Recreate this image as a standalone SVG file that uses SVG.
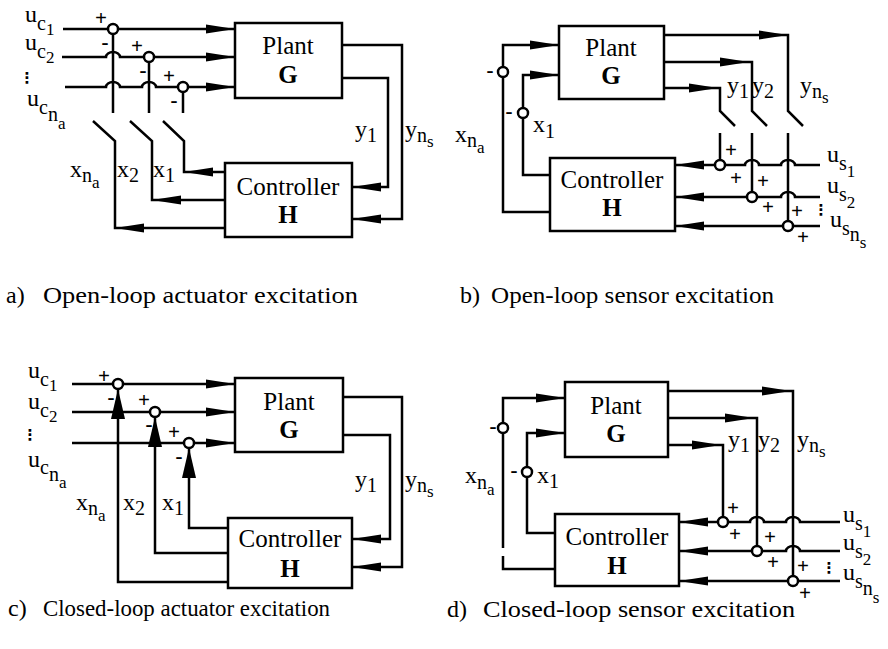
<svg xmlns="http://www.w3.org/2000/svg" xmlns:xlink="http://www.w3.org/1999/xlink" width="888" height="649" viewBox="0 0 888 649">
<style>
.ln{fill:none;stroke:#000;stroke-width:2.5;stroke-linejoin:miter}
.bx{fill:#fff;stroke:#000;stroke-width:2.5}
.sj{fill:#fff;stroke:#000;stroke-width:2.5}
text{font-family:"Liberation Serif","Times New Roman",serif;fill:#000}
.t{font-size:24px}
.s1{font-size:20px}
.s2{font-size:17px}
.bl{font-size:25px;text-anchor:middle}
.bb{font-size:25px;text-anchor:middle;font-weight:bold}
.sg{font-size:21px;font-weight:bold;text-anchor:middle}
.cap{font-size:24px}
.dt{font-family:"DejaVu Sans",sans-serif;font-size:15px;font-weight:bold;text-anchor:middle}
</style>
<defs>
<path id="ah" d="M0,0 L-29,-4.5 L-29,4.5 Z" fill="#000"/>
<path id="av" d="M0,0 L-30,-7 L-30,7 Z" fill="#000"/>
</defs>
<rect width="888" height="649" fill="#fff"/>

<!-- ================= Panel a ================= -->
<g id="a-connectors">
<path class="ln" d="M63,29 H235"/>
<path class="ln" d="M62,57 H106 A7,5 0 0 1 120,57 H235"/>
<path class="ln" d="M65,87 H106 A7,5 0 0 1 120,87 H142 A7,5 0 0 1 156,87 H235"/>
<path class="ln" d="M113,29 V113 M149,57 V113 M183,87 V113"/>
<path class="ln" d="M93,121 L115,141 V228 H225"/>
<path class="ln" d="M130,121 L152,141 V200 H225"/>
<path class="ln" d="M163,121 L184,141 V172 H225"/>
<path class="ln" d="M342,45 H402 V219 H352"/>
<path class="ln" d="M342,78 H388 V187 H352"/>
<use xlink:href="#ah" transform="translate(235,29)"/>
<use xlink:href="#ah" transform="translate(235,57)"/>
<use xlink:href="#ah" transform="translate(235,87)"/>
<use xlink:href="#ah" transform="translate(115,228) rotate(180)"/>
<use xlink:href="#ah" transform="translate(152,200) rotate(180)"/>
<use xlink:href="#ah" transform="translate(184,172) rotate(180)"/>
<use xlink:href="#ah" transform="translate(352,219) rotate(180)"/>
<use xlink:href="#ah" transform="translate(352,187) rotate(180)"/>
</g>
<g id="a-plant"><rect class="bx" x="235" y="23" width="107" height="75"/><text class="bl" x="288" y="54">Plant</text><text class="bb" x="288" y="83">G</text></g>
<g id="a-controller"><rect class="bx" x="225" y="163" width="127" height="74"/><text class="bl" x="288" y="195">Controller</text><text class="bb" x="288" y="223">H</text></g>
<g id="a-sum1"><circle class="sj" cx="113" cy="29" r="5"/><text class="sg" x="101" y="25">+</text><text class="sg" x="105" y="49">-</text></g>
<g id="a-sum2"><circle class="sj" cx="149" cy="57" r="5"/><text class="sg" x="137" y="53">+</text><text class="sg" x="143" y="77">-</text></g>
<g id="a-sum3"><circle class="sj" cx="183" cy="87" r="5"/><text class="sg" x="169" y="83">+</text><text class="sg" x="174" y="107">-</text></g>
<g id="a-labels">
<text class="t" x="25" y="22">u<tspan class="s1" dy="8">c</tspan><tspan class="s2" dy="5">1</tspan></text>
<text class="t" x="25" y="50">u<tspan class="s1" dy="8">c</tspan><tspan class="s2" dy="5">2</tspan></text>
<text class="dt" x="27" y="83">⋮</text>
<text class="t" x="27" y="106">u<tspan class="s1" dy="8">c</tspan><tspan class="s1" dy="7">n</tspan><tspan class="s2" dy="8">a</tspan></text>
<text class="t" x="70" y="177">x<tspan class="s1" dy="5">n</tspan><tspan class="s2" dy="6">a</tspan></text>
<text class="t" x="117" y="177">x<tspan class="s1" dy="5">2</tspan></text>
<text class="t" x="153" y="177">x<tspan class="s1" dy="5">1</tspan></text>
<text class="t" x="355" y="137">y<tspan class="s1" dy="5">1</tspan></text>
<text class="t" x="405" y="137">y<tspan class="s1" dy="5">n</tspan><tspan class="s2" dy="5">s</tspan></text>
</g>
<text class="cap" x="6" y="303">a)</text>
<text class="cap" x="43" y="303" textLength="315" lengthAdjust="spacingAndGlyphs">Open-loop actuator excitation</text>

<!-- ================= Panel b ================= -->
<g id="b-connectors">
<path class="ln" d="M550,212 H503 V45 H559"/>
<path class="ln" d="M550,175 H523 V75 H559"/>
<path class="ln" d="M664,35 H788 V111 L803,126"/>
<path class="ln" d="M664,62 H752 V111 L767,126"/>
<path class="ln" d="M664,88 H720 V111 L735,126"/>
<path class="ln" d="M720,133 V165 M752,133 V197 M788,133 V226"/>
<path class="ln" d="M820,165 H795 A7,5 0 0 0 781,165 H759 A7,5 0 0 0 745,165 H675"/>
<path class="ln" d="M820,197 H795 A7,5 0 0 0 781,197 H675"/>
<path class="ln" d="M820,226 H675"/>
<use xlink:href="#ah" transform="translate(559,45)"/>
<use xlink:href="#ah" transform="translate(559,75)"/>
<use xlink:href="#ah" transform="translate(788,35)"/>
<use xlink:href="#ah" transform="translate(749,62)"/>
<use xlink:href="#ah" transform="translate(718,88)"/>
<use xlink:href="#ah" transform="translate(675,165) rotate(180)"/>
<use xlink:href="#ah" transform="translate(675,197) rotate(180)"/>
<use xlink:href="#ah" transform="translate(675,226) rotate(180)"/>
</g>
<g id="b-plant"><rect class="bx" x="559" y="26" width="105" height="73"/><text class="bl" x="611" y="56">Plant</text><text class="bb" x="611" y="84">G</text></g>
<g id="b-controller"><rect class="bx" x="550" y="158" width="125" height="73"/><text class="bl" x="612" y="188">Controller</text><text class="bb" x="612" y="216">H</text></g>
<g id="b-sum-xna"><circle class="sj" cx="503" cy="72" r="5"/><text class="sg" x="490" y="77">-</text></g>
<g id="b-sum-x1"><circle class="sj" cx="523" cy="113" r="5"/><text class="sg" x="509" y="118">-</text></g>
<g id="b-sum1"><circle class="sj" cx="720" cy="165" r="5"/><text class="sg" x="731" y="157">+</text><text class="sg" x="736" y="185">+</text></g>
<g id="b-sum2"><circle class="sj" cx="752" cy="197" r="5"/><text class="sg" x="763" y="188">+</text><text class="sg" x="768" y="214">+</text></g>
<g id="b-sum3"><circle class="sj" cx="788" cy="226" r="5"/><text class="sg" x="797" y="218">+</text><text class="sg" x="803" y="244">+</text></g>
<g id="b-labels">
<text class="t" x="455" y="142">x<tspan class="s1" dy="5">n</tspan><tspan class="s2" dy="6">a</tspan></text>
<text class="t" x="533" y="132">x<tspan class="s1" dy="6">1</tspan></text>
<text class="t" x="727" y="93">y<tspan class="s1" dy="5">1</tspan></text>
<text class="t" x="752" y="93">y<tspan class="s1" dy="5">2</tspan></text>
<text class="t" x="800" y="93">y<tspan class="s1" dy="5">n</tspan><tspan class="s2" dy="5">s</tspan></text>
<text class="t" x="827" y="162">u<tspan class="s1" dy="8">s</tspan><tspan class="s2" dy="7">1</tspan></text>
<text class="t" x="827" y="193">u<tspan class="s1" dy="8">s</tspan><tspan class="s2" dy="7">2</tspan></text>
<text class="dt" x="821" y="215">⋮</text>
<text class="t" x="830" y="227">u<tspan class="s1" dy="8">s</tspan><tspan class="s1" dy="6">n</tspan><tspan class="s2" dy="7">s</tspan></text>
</g>
<text class="cap" x="460" y="303">b)</text>
<text class="cap" x="491" y="303" textLength="283" lengthAdjust="spacingAndGlyphs">Open-loop sensor excitation</text>

<!-- ================= Panel c ================= -->
<g id="c-connectors">
<path class="ln" d="M72,384 H235"/>
<path class="ln" d="M72,412 H235"/>
<path class="ln" d="M72,443 H235"/>
<path class="ln" d="M228,528 H189 V448"/>
<path class="ln" d="M228,553 H155 V417"/>
<path class="ln" d="M228,582 H118 V389"/>
<path class="ln" d="M343,397 H402 V567 H352"/>
<path class="ln" d="M343,435 H390 V539 H352"/>
<use xlink:href="#ah" transform="translate(235,384)"/>
<use xlink:href="#ah" transform="translate(235,412)"/>
<use xlink:href="#ah" transform="translate(235,443)"/>
<use xlink:href="#av" transform="translate(118,389) rotate(-90)"/>
<use xlink:href="#av" transform="translate(155,417) rotate(-90)"/>
<use xlink:href="#av" transform="translate(189,448) rotate(-90)"/>
<use xlink:href="#ah" transform="translate(352,567) rotate(180)"/>
<use xlink:href="#ah" transform="translate(352,539) rotate(180)"/>
</g>
<g id="c-plant"><rect class="bx" x="235" y="378" width="108" height="74"/><text class="bl" x="289" y="410">Plant</text><text class="bb" x="289" y="438">G</text></g>
<g id="c-controller"><rect class="bx" x="228" y="518" width="124" height="70"/><text class="bl" x="290" y="547">Controller</text><text class="bb" x="290" y="577">H</text></g>
<g id="c-sum1"><circle class="sj" cx="118" cy="384" r="5"/><text class="sg" x="104" y="383">+</text><text class="sg" x="111" y="404">-</text></g>
<g id="c-sum2"><circle class="sj" cx="155" cy="412" r="5"/><text class="sg" x="144" y="407">+</text><text class="sg" x="149" y="431">-</text></g>
<g id="c-sum3"><circle class="sj" cx="189" cy="443" r="5"/><text class="sg" x="174" y="439">+</text><text class="sg" x="179" y="463">-</text></g>
<g id="c-labels">
<text class="t" x="28" y="378">u<tspan class="s1" dy="8">c</tspan><tspan class="s2" dy="5">1</tspan></text>
<text class="t" x="28" y="409">u<tspan class="s1" dy="8">c</tspan><tspan class="s2" dy="5">2</tspan></text>
<text class="dt" x="30" y="440">⋮</text>
<text class="t" x="28" y="467">u<tspan class="s1" dy="7">c</tspan><tspan class="s1" dy="7">n</tspan><tspan class="s2" dy="7">a</tspan></text>
<text class="t" x="76" y="510">x<tspan class="s1" dy="5">n</tspan><tspan class="s2" dy="6">a</tspan></text>
<text class="t" x="123" y="510">x<tspan class="s1" dy="5">2</tspan></text>
<text class="t" x="162" y="510">x<tspan class="s1" dy="5">1</tspan></text>
<text class="t" x="355" y="487">y<tspan class="s1" dy="5">1</tspan></text>
<text class="t" x="405" y="487">y<tspan class="s1" dy="5">n</tspan><tspan class="s2" dy="5">s</tspan></text>
</g>
<text class="cap" x="8" y="616">c)</text>
<text class="cap" x="43" y="616" textLength="287" lengthAdjust="spacingAndGlyphs">Closed-loop actuator excitation</text>

<!-- ================= Panel d ================= -->
<g id="d-connectors">
<path class="ln" d="M555,569 H503 V556 M503,548 V398 H565"/>
<path class="ln" d="M555,533 H527 V433 H565"/>
<path class="ln" d="M668,391 H793 V581"/>
<path class="ln" d="M668,418 H757 V551"/>
<path class="ln" d="M668,445 H723 V522"/>
<path class="ln" d="M840,522 H800 A7,5 0 0 0 786,522 H764 A7,5 0 0 0 750,522 H679"/>
<path class="ln" d="M840,551 H800 A7,5 0 0 0 786,551 H679"/>
<path class="ln" d="M840,581 H679"/>
<use xlink:href="#ah" transform="translate(565,398)"/>
<use xlink:href="#ah" transform="translate(565,433)"/>
<use xlink:href="#ah" transform="translate(791,391)"/>
<use xlink:href="#ah" transform="translate(754,418)"/>
<use xlink:href="#ah" transform="translate(721,445)"/>
<use xlink:href="#ah" transform="translate(679,522) rotate(180)"/>
<use xlink:href="#ah" transform="translate(679,551) rotate(180)"/>
<use xlink:href="#ah" transform="translate(679,581) rotate(180)"/>
</g>
<g id="d-plant"><rect class="bx" x="565" y="382" width="103" height="75"/><text class="bl" x="616" y="414">Plant</text><text class="bb" x="616" y="442">G</text></g>
<g id="d-controller"><rect class="bx" x="555" y="514" width="124" height="72"/><text class="bl" x="617" y="545">Controller</text><text class="bb" x="617" y="574">H</text></g>
<g id="d-sum-xna"><circle class="sj" cx="503" cy="428" r="5"/><text class="sg" x="493" y="433">-</text></g>
<g id="d-sum-x1"><circle class="sj" cx="527" cy="472" r="5"/><text class="sg" x="514" y="477">-</text></g>
<g id="d-sum1"><circle class="sj" cx="723" cy="522" r="5"/><text class="sg" x="733" y="515">+</text><text class="sg" x="735" y="541">+</text></g>
<g id="d-sum2"><circle class="sj" cx="757" cy="551" r="5"/><text class="sg" x="770" y="544">+</text><text class="sg" x="773" y="569">+</text></g>
<g id="d-sum3"><circle class="sj" cx="793" cy="581" r="5"/><text class="sg" x="803" y="573">+</text><text class="sg" x="805" y="600">+</text></g>
<g id="d-labels">
<text class="t" x="465" y="483">x<tspan class="s1" dy="6">n</tspan><tspan class="s2" dy="6">a</tspan></text>
<text class="t" x="537" y="483">x<tspan class="s1" dy="5">1</tspan></text>
<text class="t" x="728" y="447">y<tspan class="s1" dy="5">1</tspan></text>
<text class="t" x="758" y="447">y<tspan class="s1" dy="5">2</tspan></text>
<text class="t" x="797" y="447">y<tspan class="s1" dy="5">n</tspan><tspan class="s2" dy="5">s</tspan></text>
<text class="t" x="843" y="522">u<tspan class="s1" dy="8">s</tspan><tspan class="s2" dy="7">1</tspan></text>
<text class="t" x="843" y="550">u<tspan class="s1" dy="8">s</tspan><tspan class="s2" dy="7">2</tspan></text>
<text class="dt" x="829" y="573">⋮</text>
<text class="t" x="843" y="580">u<tspan class="s1" dy="8">s</tspan><tspan class="s1" dy="7">n</tspan><tspan class="s2" dy="8">s</tspan></text>
</g>
<text class="cap" x="447" y="617">d)</text>
<text class="cap" x="483" y="617" textLength="312" lengthAdjust="spacingAndGlyphs">Closed-loop sensor excitation</text>
</svg>
